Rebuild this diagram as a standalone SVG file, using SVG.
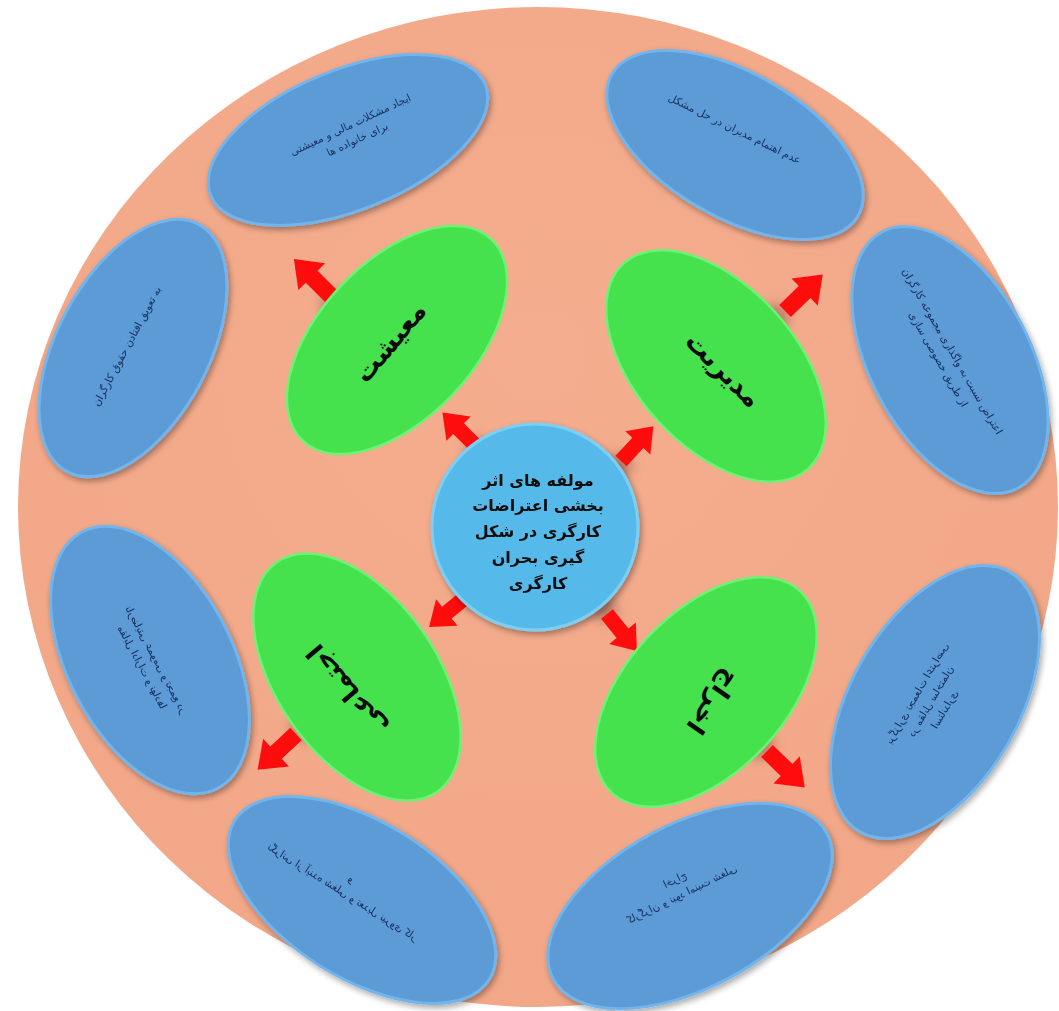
<svg xmlns="http://www.w3.org/2000/svg" width="1059" height="1011" viewBox="0 0 1059 1011">
<defs>
<radialGradient id="bg" cx="0.5" cy="0.35" r="0.7">
<stop offset="0" stop-color="#F4AD8E"/>
<stop offset="1" stop-color="#F2A787"/>
</radialGradient>
<filter id="sh" x="-20%" y="-20%" width="140%" height="140%">
<feGaussianBlur in="SourceAlpha" stdDeviation="3"/>
<feOffset dx="2" dy="3"/>
<feComponentTransfer><feFuncA type="linear" slope="0.35"/></feComponentTransfer>
<feMerge><feMergeNode/><feMergeNode in="SourceGraphic"/></feMerge>
</filter>
<filter id="blur"><feGaussianBlur stdDeviation="6"/></filter>
<path id="arr" d="M0,-8 L26,-8 L26,-18 L50,0 L26,18 L26,8 L0,8 Z"/>
<style>
.big{fill:url(#bg);}
.blue{fill:#5B9BD5;stroke:#72B4EC;stroke-width:3;}
.green{fill:#46E24E;stroke:#6EF276;stroke-width:2.5;}
.center{fill:#55BAEA;stroke:#7CCFF3;stroke-width:3;}
.bt{font-family:"DejaVu Sans",sans-serif;font-size:10.5px;fill:#1A3060;text-anchor:middle;}
.gt{font-family:"DejaVu Sans",sans-serif;font-size:26px;font-weight:bold;fill:#0A0A0A;text-anchor:middle;}
.ct{font-family:"DejaVu Sans",sans-serif;font-size:16px;font-weight:bold;fill:#111111;text-anchor:middle;}
.ar{fill:#FF0D0D;}
.shd{fill:#8A5A50;opacity:0.55;}
</style>
</defs>
<rect width="1059" height="1011" fill="#FFFFFF"/>
<ellipse class="big" cx="538" cy="507" rx="520" ry="500"/>

<g id="n-b1" filter="url(#sh)">
<ellipse class="blue" cx="348" cy="140" rx="148" ry="70" transform="rotate(-22 348 140)"/>
<text class="bt" transform="translate(352 128) rotate(-25)"><tspan x="0" y="0">ایجاد مشکلات مالی و معیشتی</tspan><tspan x="0" y="16">برای خانواده ها</tspan></text>
</g>
<g id="n-b2" filter="url(#sh)">
<ellipse class="blue" cx="735" cy="145" rx="142" ry="72" transform="rotate(30 735 145)"/>
<text class="bt" transform="translate(733 132) rotate(26)"><tspan x="0" y="0">عدم اهتمام مدیران در حل مشکل</tspan></text>
</g>
<g id="n-b3" filter="url(#sh)">
<ellipse class="blue" cx="133" cy="348" rx="140" ry="76" transform="rotate(-62 133 348)"/>
<text class="bt" transform="translate(130 348) rotate(-62)"><tspan x="0" y="0">به تعویق افتادن حقوق کارگران</tspan></text>
</g>
<g id="n-b4" filter="url(#sh)">
<ellipse class="blue" cx="950" cy="360" rx="145" ry="80" transform="rotate(62 950 360)"/>
<text class="bt" transform="translate(944 356) rotate(60)"><tspan x="0" y="-6">اعتراض نسبت به واگذاری مجموعه کارگران</tspan><tspan x="0" y="10">از طریق خصوصی سازی</tspan></text>
</g>
<g id="n-b5" filter="url(#sh)">
<ellipse class="blue" cx="150" cy="660" rx="145" ry="82" transform="rotate(62 150 660)"/>
<text class="bt" transform="translate(148 664) rotate(62) scale(-1 1)"><tspan x="0" y="-6">نارضایتی عمومی و تجمع در</tspan><tspan x="0" y="10">مقابل ادارات و نهادها</tspan></text>
</g>
<g id="n-b6" filter="url(#sh)">
<ellipse class="blue" cx="935" cy="702" rx="150" ry="84" transform="rotate(-60 935 702)"/>
<text class="bt" transform="translate(932 702) rotate(-60) scale(-1 1)"><tspan x="0" y="-14">برگزاری تجمعات اعتراضی</tspan><tspan x="0" y="2">در مقابل ساختمان</tspan><tspan x="0" y="18">استانداری</tspan></text>
</g>
<g id="n-b7" filter="url(#sh)">
<ellipse class="blue" cx="362" cy="900" rx="150" ry="78" transform="rotate(32 362 900)"/>
<text class="bt" transform="translate(345 888) rotate(32) scale(-1 1)"><tspan x="0" y="-8">و</tspan><tspan x="0" y="8">نگرانی از آینده شغلی و تعدیل نیروی کار</tspan></text>
</g>
<g id="n-b8" filter="url(#sh)">
<ellipse class="blue" cx="690" cy="906" rx="155" ry="82" transform="rotate(-28 690 906)"/>
<text class="bt" transform="translate(680 890) rotate(-26) scale(-1 1)"><tspan x="0" y="-8">اخراج</tspan><tspan x="0" y="8">کارگران و نبود امنیت شغلی</tspan></text>
</g>

<g id="connectors">
<g class="shd" filter="url(#blur)">
<circle cx="478" cy="450" r="12"/>
<circle cx="620" cy="465" r="12"/>
<circle cx="470" cy="595" r="12"/>
<circle cx="605" cy="610" r="12"/>
<circle cx="335" cy="305" r="14"/>
<circle cx="775" cy="318" r="14"/>
<circle cx="305" cy="727" r="14"/>
<circle cx="760" cy="745" r="14"/>
</g>
<use href="#arr" class="ar" transform="translate(476 446) rotate(-135) scale(0.95)"/>
<use href="#arr" class="ar" transform="translate(621 461) rotate(-47) scale(0.95)"/>
<use href="#arr" class="ar" transform="translate(466 597) rotate(141) scale(0.95)"/>
<use href="#arr" class="ar" transform="translate(607 614) rotate(51) scale(0.95)"/>
<use href="#arr" class="ar" transform="translate(331 296) rotate(-135) scale(1.05)"/>
<use href="#arr" class="ar" transform="translate(785 311) rotate(-44) scale(1.05)"/>
<use href="#arr" class="ar" transform="translate(296 734) rotate(137) scale(1.05)"/>
<use href="#arr" class="ar" transform="translate(767 751) rotate(44) scale(1.05)"/>
</g>

<g id="n-g1">
<ellipse class="green" cx="397" cy="340" rx="138" ry="78" transform="rotate(-47 397 340)"/>
<text class="gt" transform="translate(397 348) rotate(-50)">معیشت</text>
</g>
<g id="n-g2">
<ellipse class="green" cx="716" cy="366" rx="138" ry="80" transform="rotate(48 716 366)"/>
<text class="gt" transform="translate(717 376) rotate(45)">مدیریت</text>
</g>
<g id="n-g3">
<ellipse class="green" cx="357" cy="677" rx="140" ry="80" transform="rotate(55 357 677)"/>
<text class="gt" transform="translate(354 684) rotate(230)">اجتماعی</text>
</g>
<g id="n-g4">
<ellipse class="green" cx="706" cy="692" rx="138" ry="80" transform="rotate(-47 706 692)"/>
<text class="gt" transform="translate(706 697) rotate(125)">اخراج</text>
</g>

<g id="n-center" filter="url(#sh)">
<circle class="center" cx="535" cy="527" r="103"/>
<text class="ct"><tspan x="538" y="486">مولفه های اثر</tspan><tspan x="538" y="511">بخشی اعتراضات</tspan><tspan x="538" y="537">کارگری در شکل</tspan><tspan x="538" y="563">گیری بحران</tspan><tspan x="538" y="589">کارگری</tspan></text>
</g>
</svg>
